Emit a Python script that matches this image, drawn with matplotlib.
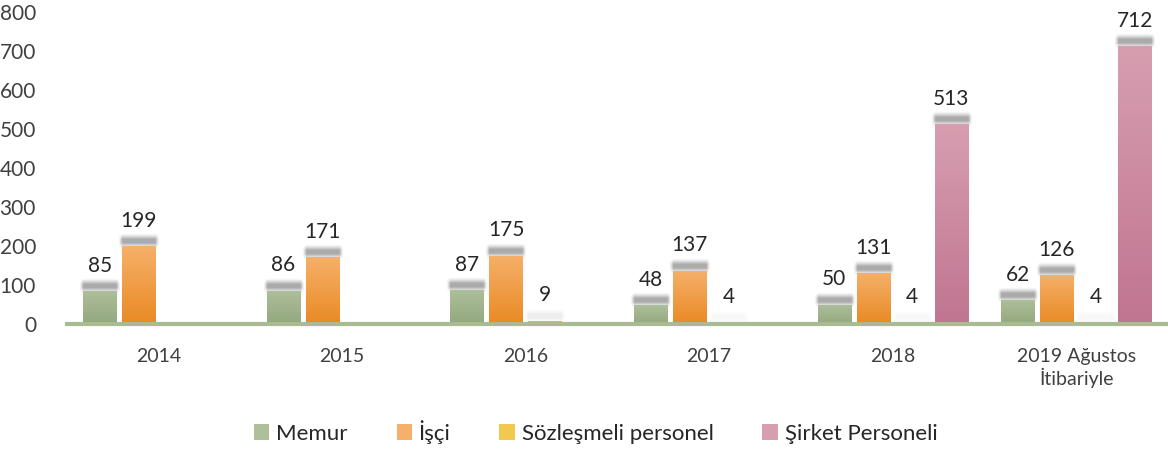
import numpy as np
import matplotlib.pyplot as plt
from matplotlib.colors import LinearSegmentedColormap

plt.rcParams['font.family'] = ['Lato', 'DejaVu Sans']

# veri
yillar = ['2014', '2015', '2016', '2017', '2018', '2019 Ağustos\nİtibariyle']
memur = [85, 86, 87, 48, 50, 62]
isci = [199, 171, 175, 137, 131, 126]
sozlesmeli = [None, None, 9, 4, 4, 4]
sirket = [None, None, None, None, 513, 712]

seriler = [('Memur', memur, '#adbf9b', '#94a87e'),
           ('İşçi', isci, '#f6b06a', '#e98a24'),
           ('Sözleşmeli personel', sozlesmeli, '#f2c84e', '#dcae05'),
           ('Şirket Personeli', sirket, '#d79eb0', '#c07590')]

fig = plt.figure(figsize=(11.68, 4.59), dpi=100)
ax = fig.add_axes([0.057, 0.294, 0.943, 0.680])

x = np.arange(len(yillar))
genislik = 0.18
aralik = 0.2125
px = 800 / 312  # veri birimi / piksel
xpx = 6 / 1101  # x ekseninde bir piksel

# bulanik golge deseni
gy = np.linspace(-1, 1, 30)
gx = np.linspace(-1, 1, 60)
ay = np.clip(1.3 * (1 - np.abs(gy)), 0, 1) ** 1.3
ax_ = np.clip(5 * (1 - np.abs(gx)), 0, 1) ** 1.5

for i, (ad, degerler, ust, alt) in enumerate(seriler):
    cmap = LinearSegmentedColormap.from_list(ad, [alt, ust])
    ofset = (i - 1.5) * aralik
    for xi, v in zip(x, degerler):
        if v is None:
            continue
        x0 = xi + ofset - genislik / 2
        golge = np.zeros((30, 60, 4))
        golge[..., :3] = 0.45
        golge[..., 3] = 0.6 * min(1, v / 45) * np.outer(ay, ax_)
        ax.imshow(golge, aspect='auto', interpolation='bilinear',
                  extent=(x0 - 4 * xpx, x0 + genislik + 4 * xpx, v - 3 * px, v + 12 * px),
                  zorder=1)
        bar = ax.bar(xi + ofset, v, width=genislik, color=ust, zorder=2)[0]
        if v > 0:
            grad = np.linspace(0, 1, 100).reshape(-1, 1)
            im = ax.imshow(grad, cmap=cmap, aspect='auto', origin='lower',
                           extent=(x0, x0 + genislik, 0, v), zorder=3)
            im.set_clip_path(bar)
        ax.annotate(str(v), (xi + ofset, v), xytext=(0, 11), textcoords='offset points',
                    ha='center', va='bottom', fontsize=15, color='#262626', zorder=4)
    ax.bar([0], [0], color=ust, label=ad)

ax.axhline(0, color='#a9bb92', lw=3, zorder=5, clip_on=False)
ax.set_xlim(-0.5, 5.5)
ax.set_ylim(0, 800)
ax.set_yticks(range(0, 801, 100))
ax.set_xticks(x)
ax.set_xticklabels(yillar)
ax.tick_params(axis='y', length=0, pad=22, labelsize=15, labelcolor='#404040')
ax.tick_params(axis='x', length=0, pad=17, labelsize=14, labelcolor='#404040')
for s in ax.spines.values():
    s.set_visible(False)

fig.legend(loc='lower center', bbox_to_anchor=(0.51, -0.01), ncol=4, frameon=False,
           fontsize=16, handlelength=0.7, handleheight=0.7, handletextpad=0.3,
           columnspacing=2.2, labelcolor='#262626')

fig.savefig('out.png', dpi=100)
